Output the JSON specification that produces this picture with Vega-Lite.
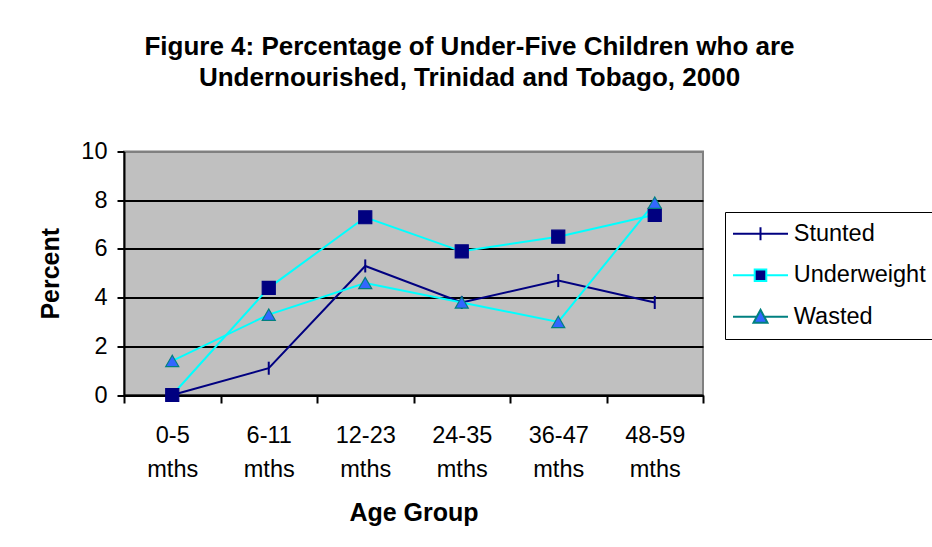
{
  "$schema": "https://vega.github.io/schema/vega-lite/v6.json",
  "width": 579,
  "height": 243.5,
  "autosize": {"type": "none"},
  "padding": {"left": 124, "top": 151.5, "right": 229, "bottom": 152},
  "background": "white",
  "title": {
    "text": ["Figure 4: Percentage of Under-Five Children who are", "Undernourished, Trinidad and Tobago, 2000"],
    "font": "Liberation Sans",
    "fontSize": 26,
    "fontWeight": "bold",
    "color": "black",
    "lineHeight": 31,
    "anchor": "middle",
    "frame": "group",
    "dx": 56,
    "offset": 49
  },
  "data": {
    "values": [
      {"age": "0-5 mths", "series": "Stunted", "value": 0},
      {"age": "6-11 mths", "series": "Stunted", "value": 1.1},
      {"age": "12-23 mths", "series": "Stunted", "value": 5.3},
      {"age": "24-35 mths", "series": "Stunted", "value": 3.8},
      {"age": "36-47 mths", "series": "Stunted", "value": 4.7},
      {"age": "48-59 mths", "series": "Stunted", "value": 3.8},
      {"age": "0-5 mths", "series": "Underweight", "value": 0},
      {"age": "6-11 mths", "series": "Underweight", "value": 4.4},
      {"age": "12-23 mths", "series": "Underweight", "value": 7.3},
      {"age": "24-35 mths", "series": "Underweight", "value": 5.9},
      {"age": "36-47 mths", "series": "Underweight", "value": 6.5},
      {"age": "48-59 mths", "series": "Underweight", "value": 7.4},
      {"age": "0-5 mths", "series": "Wasted", "value": 1.4},
      {"age": "6-11 mths", "series": "Wasted", "value": 3.3},
      {"age": "12-23 mths", "series": "Wasted", "value": 4.6},
      {"age": "24-35 mths", "series": "Wasted", "value": 3.8},
      {"age": "36-47 mths", "series": "Wasted", "value": 3.0},
      {"age": "48-59 mths", "series": "Wasted", "value": 7.9}
    ]
  },
  "encoding": {
    "x": {
      "field": "age",
      "type": "nominal",
      "sort": null,
      "scale": {"type": "band", "paddingInner": 0, "paddingOuter": 0},
      "axis": {
        "title": "Age Group",
        "labelAngle": 0,
        "labelExpr": "split(datum.label, ' ')",
        "labelLineHeight": 34,
        "labelFontSize": 23.5,
        "labelPadding": 20,
        "tickSize": 8,
        "tickBand": "extent",
        "grid": false,
        "titlePadding": 20
      }
    },
    "y": {
      "field": "value",
      "type": "quantitative",
      "scale": {"domain": [0, 10], "nice": false},
      "axis": {
        "title": "Percent",
        "values": [0, 2, 4, 6, 8, 10],
        "labelFontSize": 23.5,
        "labelPadding": 10,
        "tickSize": 7,
        "grid": true,
        "gridColor": {"condition": {"test": "datum.value === 10", "value": "#808080"}, "value": "black"},
        "gridWidth": 2,
        "titlePadding": 17
      }
    }
  },
  "layer": [
    {
      "mark": {"type": "line", "strokeWidth": 2},
      "encoding": {
        "detail": {"field": "series", "type": "nominal"},
        "color": {"condition": {"test": "datum.series === 'Stunted'", "value": "#000080"}, "value": "#00FFFF"}
      }
    },
    {
      "mark": {"type": "point", "size": 170, "opacity": 1},
      "encoding": {
        "shape": {
          "field": "series",
          "type": "nominal",
          "scale": {"domain": ["Stunted", "Underweight", "Wasted"], "range": ["M0,-1V1", "square", "triangle-up"]},
          "legend": null
        },
        "fill": {
          "field": "series",
          "type": "nominal",
          "scale": {"domain": ["Stunted", "Underweight", "Wasted"], "range": ["transparent", "#000080", "#3366FF"]},
          "legend": null
        },
        "stroke": {
          "field": "series",
          "type": "nominal",
          "scale": {"domain": ["Stunted", "Underweight", "Wasted"], "range": ["#000080", "#000080", "#008080"]},
          "legend": null
        },
        "strokeWidth": {"condition": {"test": "datum.series === 'Stunted'", "value": 2}, "value": 1.2}
      }
    },
    {
      "description": "Legend keys: a line segment with the series marker in its middle",
      "mark": {"type": "point", "size": 400, "opacity": 0, "strokeWidth": 2},
      "encoding": {
        "shape": {
          "field": "series",
          "type": "nominal",
          "scale": {
            "domain": ["Stunted", "Underweight", "Wasted"],
            "range": [
              "M-2.75,0H2.75M0,-0.65V0.65",
              "M-2.75,0H-0.6M0.6,0H2.75M-0.58,-0.58H0.58V0.58H-0.58Z",
              "M-2.75,0H-0.38M0.38,0H2.75M0,-0.7L0.7,0.6H-0.7Z"
            ]
          },
          "legend": {
            "title": null,
            "orient": "none",
            "legendX": 601,
            "legendY": 60.5,
            "padding": 10,
            "strokeColor": "black",
            "fillColor": "white",
            "labelFont": "Liberation Sans",
            "labelFontSize": 23.5,
            "labelColor": "black",
            "labelOffset": 21.5,
            "symbolOffset": 13.75,
            "rowPadding": 16.5,
            "symbolSize": 400,
            "symbolStrokeWidth": 2,
            "symbolOpacity": 1
          }
        },
        "fill": {
          "field": "series",
          "type": "nominal",
          "scale": {"domain": ["Stunted", "Underweight", "Wasted"], "range": ["transparent", "#000080", "#3366FF"]}
        },
        "stroke": {
          "field": "series",
          "type": "nominal",
          "scale": {"domain": ["Stunted", "Underweight", "Wasted"], "range": ["#000080", "#00FFFF", "#008080"]}
        }
      }
    }
  ],
  "resolve": {"scale": {"shape": "independent", "fill": "independent", "stroke": "independent"}},
  "config": {
    "font": "Liberation Sans",
    "view": {"fill": "#C0C0C0", "stroke": "#808080", "strokeWidth": 2},
    "axis": {
      "labelFont": "Liberation Sans",
      "labelColor": "black",
      "titleFont": "Liberation Sans",
      "titleFontSize": 25,
      "titleFontWeight": "bold",
      "titleColor": "black",
      "domainColor": "black",
      "domainWidth": 2,
      "tickColor": "black",
      "tickWidth": 2
    }
  }
}
